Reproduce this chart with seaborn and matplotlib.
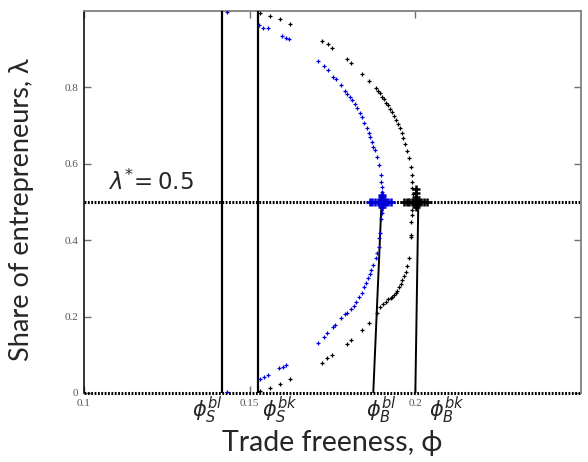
import numpy as np
import pandas as pd
import matplotlib
matplotlib.use("Agg")
import matplotlib.pyplot as plt
import matplotlib.transforms as mtransforms
import seaborn as sns

# ---------------- data ----------------
# blue curve (upper half, lambda > 0.5)
blue_up_phi = [0.1431, 0.1527, 0.1539, 0.1554, 0.1599, 0.1611, 0.1620, 0.1705, 0.1723, 0.1735,
               0.1753, 0.1762, 0.1777, 0.1789, 0.1795, 0.1804, 0.1810, 0.1819, 0.1825, 0.1834,
               0.1840, 0.1846, 0.1855, 0.1861, 0.1864, 0.1870, 0.1873, 0.1877, 0.1883, 0.1889,
               0.1895, 0.1895, 0.1898, 0.1898, 0.1898]
blue_up_lam = [0.997, 0.963, 0.955, 0.955, 0.935, 0.929, 0.927, 0.869, 0.856, 0.846,
               0.827, 0.822, 0.806, 0.791, 0.783, 0.775, 0.767, 0.757, 0.746, 0.733,
               0.723, 0.707, 0.694, 0.681, 0.670, 0.657, 0.644, 0.636, 0.618, 0.597,
               0.571, 0.552, 0.539, 0.526, 0.516]
# blue curve (lower half)
blue_lo_phi = [0.1898, 0.1898, 0.1895, 0.1892, 0.1889, 0.1889, 0.1883, 0.1880, 0.1873, 0.1867,
               0.1864, 0.1858, 0.1852, 0.1846, 0.1840, 0.1831, 0.1822, 0.1816, 0.1807, 0.1795,
               0.1789, 0.1777, 0.1759, 0.1750, 0.1732, 0.1723, 0.1705, 0.1611, 0.1602, 0.1590,
               0.1554, 0.1542, 0.1530, 0.1431]
blue_lo_lam = [0.484, 0.472, 0.455, 0.419, 0.406, 0.382, 0.366, 0.353, 0.335, 0.322,
               0.312, 0.301, 0.288, 0.277, 0.262, 0.251, 0.238, 0.228, 0.220, 0.209,
               0.207, 0.196, 0.178, 0.173, 0.157, 0.147, 0.131, 0.073, 0.068, 0.065,
               0.047, 0.042, 0.037, 0.003]
# blue cluster around the symmetric equilibrium
blue_star_phi = [0.1862, 0.1870, 0.1878, 0.1886, 0.1892, 0.1898, 0.1904, 0.1910, 0.1918, 0.1926,
                 0.1898, 0.1898, 0.1898, 0.1898, 0.1898]
blue_star_lam = [0.500, 0.500, 0.500, 0.500, 0.500, 0.500, 0.500, 0.500, 0.500, 0.500,
                 0.506, 0.494, 0.512, 0.488, 0.518]

# black curve (upper half)
black_up_phi = [0.1530, 0.1560, 0.1593, 0.1623, 0.1717, 0.1735, 0.1747, 0.1795, 0.1807, 0.1840,
                0.1861, 0.1880, 0.1886, 0.1892, 0.1898, 0.1904, 0.1910, 0.1916, 0.1925, 0.1931,
                0.1937, 0.1943, 0.1949, 0.1955, 0.1961, 0.1964, 0.1970, 0.1976, 0.1982, 0.1988,
                0.1991, 0.1991, 0.1991, 0.1994]
black_up_lam = [0.995, 0.987, 0.979, 0.966, 0.921, 0.914, 0.903, 0.874, 0.864, 0.835,
                0.817, 0.798, 0.791, 0.785, 0.775, 0.770, 0.759, 0.754, 0.743, 0.736,
                0.725, 0.715, 0.704, 0.694, 0.681, 0.668, 0.652, 0.634, 0.615, 0.592,
                0.571, 0.552, 0.537, 0.521]
# black curve (lower half)
black_lo_phi = [0.1991, 0.1991, 0.1988, 0.1988, 0.1988, 0.1982, 0.1976, 0.1973, 0.1967, 0.1961,
                0.1958, 0.1952, 0.1946, 0.1943, 0.1937, 0.1931, 0.1928, 0.1919, 0.1910, 0.1901,
                0.1892, 0.1883, 0.1861, 0.1840, 0.1807, 0.1795, 0.1747, 0.1732, 0.1717, 0.1623,
                0.1593, 0.1560, 0.1530]
black_lo_lam = [0.479, 0.466, 0.448, 0.414, 0.408, 0.353, 0.332, 0.317, 0.306, 0.296,
                0.285, 0.277, 0.267, 0.262, 0.257, 0.251, 0.249, 0.246, 0.238, 0.233,
                0.225, 0.209, 0.183, 0.165, 0.139, 0.128, 0.099, 0.092, 0.079, 0.037,
                0.024, 0.013, 0.005]
black_star_phi = [0.1966, 0.1974, 0.1982, 0.1990, 0.1996, 0.2003, 0.2010, 0.2018, 0.2026, 0.2034,
                  0.2003, 0.2003, 0.2003, 0.2003, 0.2003, 0.2003]
black_star_lam = [0.500, 0.500, 0.500, 0.500, 0.500, 0.500, 0.500, 0.500, 0.500, 0.500,
                  0.506, 0.494, 0.514, 0.486, 0.524, 0.534]

# threshold lines
phi_S_bl = 0.1416
phi_S_bk = 0.1524
phi_B_bl_line = ([0.1873, 0.1898], [0.0, 0.5])
phi_B_bk_line = ([0.2000, 0.2009], [0.0, 0.5])
lam_star = 0.5

# axis ticks
xticks = [0.10, 0.15, 0.20]
xtick_labels = ["0.1", "0.15", "0.2"]
yticks = [0.0, 0.2, 0.4, 0.6, 0.8]
ytick_labels = ["0", "0.2", "0.4", "0.6", "0.8"]

# labels below the axis
thr_labels = [r"$\phi_S^{bl}$", r"$\phi_S^{bk}$", r"$\phi_B^{bl}$", r"$\phi_B^{bk}$"]
thr_label_x = [0.1373, 0.1590, 0.1898, 0.2094]

# ---------------- figure ----------------
sns.set_theme(style="white")
plt.rcParams["font.family"] = ["Lato", "DejaVu Sans"]
plt.rcParams["mathtext.fontset"] = "dejavusans"

fig = plt.figure(figsize=(5.88, 4.62), dpi=100)
ax = fig.add_axes([84 / 588, 69 / 462, 497 / 588, 382 / 462])

blue = "#0000d8"
df_blue = pd.DataFrame({"phi": blue_up_phi + blue_lo_phi, "lam": blue_up_lam + blue_lo_lam})
df_black = pd.DataFrame({"phi": black_up_phi + black_lo_phi, "lam": black_up_lam + black_lo_lam})

# horizontal equilibrium lines (lambda = 0 and lambda = 0.5), dotted
ax.axhline(lam_star, color="black", lw=2.2, ls=(0, (0.6, 0.5)), zorder=2)
ax.axhline(0.0, color="black", lw=2.2, ls=(0, (0.6, 0.5)), zorder=2, clip_on=False)

# vertical threshold lines
ax.axvline(phi_S_bl, color="black", lw=1.6, zorder=3)
ax.axvline(phi_S_bk, color="black", lw=1.6, zorder=3)
ax.plot(*phi_B_bl_line, color="black", lw=1.4, zorder=3)
ax.plot(*phi_B_bk_line, color="black", lw=1.4, zorder=3)

sns.scatterplot(data=df_blue, x="phi", y="lam", ax=ax, color=blue, marker="+",
                s=6, linewidth=0.9, zorder=4, legend=False)
sns.scatterplot(data=df_black, x="phi", y="lam", ax=ax, color="black", marker="+",
                s=6, linewidth=0.9, zorder=4, legend=False)
sns.scatterplot(x=blue_star_phi, y=blue_star_lam, ax=ax, color=blue, marker="+",
                s=30, linewidth=1.8, zorder=5, legend=False)
sns.scatterplot(x=black_star_phi, y=black_star_lam, ax=ax, color="black", marker="+",
                s=30, linewidth=1.8, zorder=5, legend=False)

ax.set_xlim(0.10, 0.25)
ax.set_ylim(0.0, 1.0)
ax.set_xticks(xticks)
ax.set_xticklabels(xtick_labels)
ax.set_yticks(yticks)
ax.set_yticklabels(ytick_labels)
ax.tick_params(direction="in", length=5, width=1, color="#707070",
               top=True, right=True, bottom=True, left=True,
               labelsize=8, labelcolor="#555555", pad=4)
for lab in ax.get_xticklabels() + ax.get_yticklabels():
    lab.set_fontfamily(["Liberation Serif", "DejaVu Serif"])

for side in ["top", "right"]:
    ax.spines[side].set_color("#808080")
    ax.spines[side].set_linewidth(1.3)
ax.spines["left"].set_color("black")
ax.spines["left"].set_linewidth(1.1)
ax.spines["bottom"].set_visible(False)

ax.set_xlabel("Trade freeness, ϕ", fontsize=20.5, labelpad=16)
ax.set_ylabel("Share of entrepreneurs, λ", fontsize=19.5, labelpad=22)
ax.yaxis.label.set_y(0.48)

trans = mtransforms.blended_transform_factory(ax.transData, ax.transAxes)
for lab, xv in zip(thr_labels, thr_label_x):
    ax.text(xv, -0.045, lab, transform=trans, ha="center", va="center", fontsize=15)

ax.text(0.1072, 0.531, r"$\lambda^{*}\!=0.5$", fontsize=16.5, ha="left", va="baseline")

fig.savefig("out.png", dpi=100)
